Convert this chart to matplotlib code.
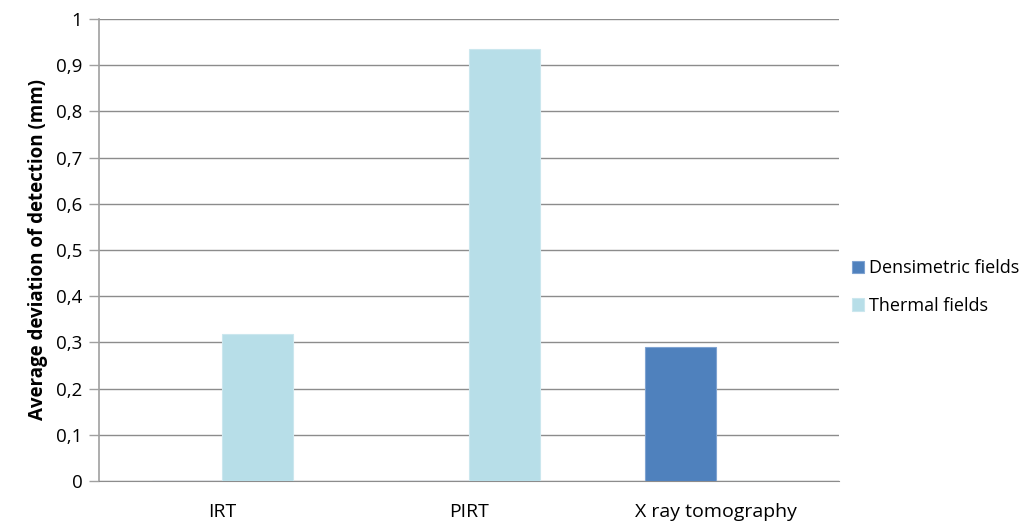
import numpy as np
import matplotlib
matplotlib.use("Agg")
import matplotlib.pyplot as plt

categories = ["IRT", "PIRT", "X ray tomography"]
densimetric = [0, 0, 0.29]
thermal = [0.318, 0.934, 0]
yticks = [0, 0.1, 0.2, 0.3, 0.4, 0.5, 0.6, 0.7, 0.8, 0.9, 1]

plt.rcParams['font.family'] = ['Open Sans', 'DejaVu Sans']

fig = plt.figure(figsize=(10.36, 5.26), dpi=100)
ax = fig.add_axes([0.0956, 0.0856, 0.7144, 0.8784])

x = np.arange(len(categories))
w = 1 / 3.5
ax.bar(x - w / 2, densimetric, w, color="#4F81BD", edgecolor="#7FA3D1", linewidth=0.8,
       label="Densimetric fields", zorder=3)
ax.bar(x + w / 2, thermal, w, color="#B7DEE8", edgecolor="#CBE7EE", linewidth=0.8,
       label="Thermal fields", zorder=3)

ax.set_xlim(-0.5, len(categories) - 0.5)
ax.set_ylim(0, 1)
ax.set_yticks(yticks)
ax.set_yticklabels([("%g" % t).replace(".", ",") for t in yticks])
ax.set_xticks(x)
ax.set_xticklabels(categories)
ax.tick_params(axis="x", length=0, pad=16, labelsize=14)
ax.tick_params(axis="y", length=7, color="#A0A0A0", width=1, pad=5, labelsize=13.5)
ax.yaxis.grid(True, color="#8C8C8C", linewidth=1, zorder=0)

for s in ["top", "right"]:
    ax.spines[s].set_visible(False)
ax.spines["left"].set_color("#A0A0A0")
ax.spines["left"].set_linewidth(1.2)
ax.spines["bottom"].set_color("#8C8C8C")

ax.set_ylabel("Average deviation of detection (mm)", fontsize=13.5, fontweight="bold", labelpad=6)

ax.legend(loc="center left", bbox_to_anchor=(1.0, 0.42), frameon=False, fontsize=13,
          handlelength=0.65, handleheight=0.65, handletextpad=0.3, labelspacing=1.1,
          borderaxespad=0.3)

fig.savefig("out.png", dpi=100)
